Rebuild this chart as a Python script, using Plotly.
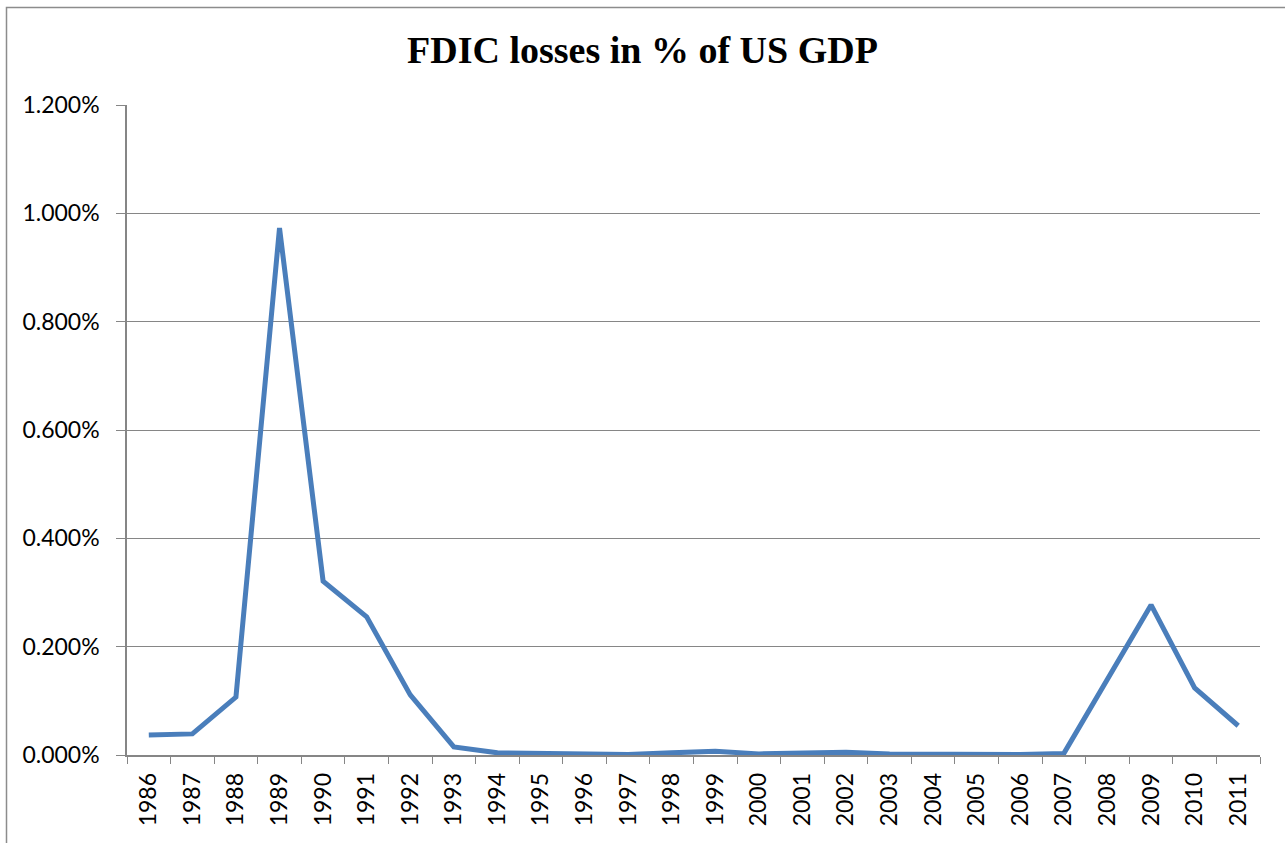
import plotly.graph_objects as go

years = [str(y) for y in range(1986, 2012)]
losses_pct = [0.037, 0.039, 0.107, 0.973, 0.321, 0.255, 0.111, 0.015, 0.004, 0.003,
              0.002, 0.001, 0.004, 0.007, 0.002, 0.004, 0.005, 0.002, 0.001, 0.001,
              0.001, 0.003, 0.140, 0.277, 0.124, 0.054]
losses = [v / 100 for v in losses_pct]
y_ticks = [0, 0.002, 0.004, 0.006, 0.008, 0.010, 0.012]

W, H = 1285, 843
L, R, T, B = 127, 25, 105, 88
pw, ph = W - L - R, H - T - B

def px_x(p):
    return (p - L) / pw

def px_y(p):
    return (H - B - p) / ph

fig = go.Figure()
fig.add_trace(go.Scatter(
    x=years, y=losses, mode="lines",
    line=dict(color="#4A7EBB", width=5),
    hoverinfo="x+y", showlegend=False,
))

fig.add_shape(type="rect", xref="paper", yref="paper",
              x0=px_x(6.5), x1=px_x(1300), y0=px_y(860), y1=px_y(7.5),
              line=dict(color="#8C8C8C", width=1.5), fillcolor="rgba(0,0,0,0)", layer="below")

tick_font = dict(family="Lato, Open Sans, sans-serif", size=23, color="black")

fig.update_layout(
    width=W, height=H,
    margin=dict(l=L, r=R, t=T, b=B),
    paper_bgcolor="white", plot_bgcolor="white",
    title=dict(text="<b>FDIC losses in % of US GDP</b>", x=0.5, xref="container",
               xanchor="center", y=1 - 50 / H, yanchor="middle",
               font=dict(family="Liberation Serif, serif", size=38, color="black")),
    xaxis=dict(type="category", tickson="boundaries", ticks="outside", ticklen=7,
               tickcolor="#868686", showline=True, linecolor="#868686", linewidth=1.5,
               showgrid=False, tickangle=-90, ticklabelstandoff=7,
               tickfont=tick_font,
               range=[-0.5, len(years) - 0.5]),
    yaxis=dict(range=[0, 0.012], tickvals=y_ticks, tickformat=".3%",
               ticks="outside", ticklen=9, tickcolor="#868686", ticklabelstandoff=12,
               showline=True, linecolor="#868686", linewidth=1.5,
               showgrid=True, gridcolor="#868686", gridwidth=1.2, zeroline=False,
               tickfont=tick_font),
)

fig.write_html("out.html", config={"displayModeBar": False},
               post_script="document.body.style.margin='0';")
